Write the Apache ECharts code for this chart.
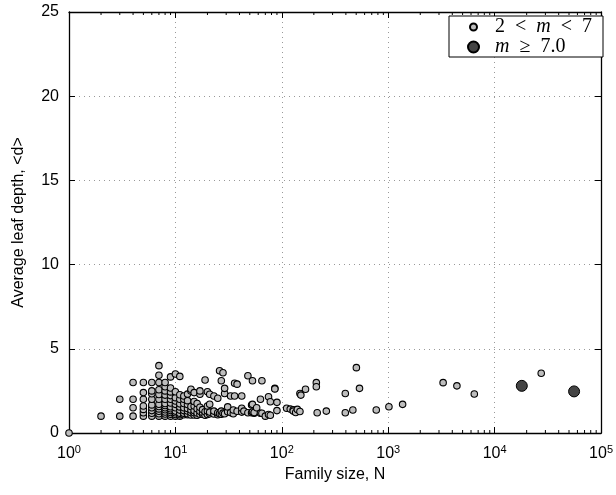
<!DOCTYPE html>
<html>
<head>
<meta charset="utf-8">
<script src="https://cdn.jsdelivr.net/npm/echarts@6/dist/echarts.min.js"></script>
<style>html,body{margin:0;padding:0;background:#fff;}#c{width:616px;height:495px;}</style>
</head>
<body>
<div id="c"></div>
<script>
// Family sizes (N) and average leaf depths (<d>) for families with 2 < m < 7
var smallN = [1,
  2, 3, 3,
  4, 4, 4, 4,
  5, 5, 5, 5, 5, 5, 5,
  6, 6, 6, 6, 6, 6, 6, 6, 6,
  7, 7, 7, 7, 7, 7, 7, 7, 7, 7, 7, 7,
  8, 8, 8, 8, 8, 8, 8, 8, 8, 8, 8, 8,
  9, 9, 9, 9, 9, 9, 9, 9, 9, 9, 9, 9,
  10, 10, 10, 10, 10, 10, 10, 10, 10, 10,
  11, 11, 11, 11, 11, 11, 11, 11, 11,
  12, 12, 12, 12, 12, 12, 12,
  13, 13, 13, 13, 13, 13, 13,
  14, 14, 14, 14, 14, 14,
  15, 15, 15, 15, 15, 15,
  16, 16, 16, 16,
  17, 17, 17, 17, 17,
  18, 18, 18,
  19, 19, 19,
  20, 20, 20, 20,
  21, 21, 21, 21,
  23, 23, 23,
  25, 25, 25,
  26, 26,
  27, 27, 27,
  28, 28,
  29, 29, 29,
  31, 31,
  33, 33,
  35, 35,
  36, 36,
  38, 38,
  42, 42, 42,
  44,
  48, 48,
  52, 52,
  53, 53, 53,
  55, 55,
  58,
  63, 63,
  65, 65,
  70,
  75, 75,
  78, 78,
  86, 86,
  90, 90,
  111, 120, 128, 128, 135, 140,
  148, 148, 151, 167,
  211, 211, 215, 262,
  395, 395, 465, 502, 537,
  772, 1015, 1365, 3280, 4420, 6440, 27400];
var smallD = [0,
  1, 1, 2,
  1, 1.5, 2, 3,
  1, 1.2, 1.4, 1.6, 2, 2.4, 3,
  1, 1.17, 1.33, 1.5, 1.67, 2, 2.33, 2.5, 3,
  1, 1.14, 1.29, 1.43, 1.57, 1.71, 2, 2.29, 2.57, 3, 3.43, 4,
  1, 1.13, 1.25, 1.38, 1.5, 1.63, 1.75, 2, 2.25, 2.5, 2.75, 3,
  1, 1.11, 1.22, 1.33, 1.44, 1.56, 1.78, 2, 2.22, 2.44, 2.67, 3.33,
  1, 1.1, 1.2, 1.3, 1.5, 1.7, 1.9, 2.1, 2.45, 3.5,
  1, 1.09, 1.18, 1.36, 1.55, 1.73, 2.0, 2.27, 3.36,
  1.08, 1.17, 1.33, 1.5, 1.75, 2.0, 2.2,
  1.08, 1.15, 1.31, 1.46, 1.69, 1.92, 2.31,
  1.07, 1.21, 1.36, 1.57, 2.5, 2.6,
  1.07, 1.2, 1.33, 1.6, 1.87, 2.4,
  1.06, 1.19, 1.44, 1.75,
  1.12, 1.29, 1.53, 2.3, 2.5,
  1.11, 1.22, 1.39,
  1.05, 1.26, 3.15,
  1.1, 1.3, 1.6, 2.45,
  1.14, 1.24, 1.71, 2.3,
  1.13, 1.3, 2.2,
  1.08, 1.2, 2.06,
  1.15, 3.7,
  1.11, 1.3, 3.1,
  1.18, 3.58,
  1.14, 2.35, 2.65,
  1.26, 1.55,
  1.21, 2.2,
  1.14, 1.37,
  2.2, 2.95,
  1.29, 2.9,
  1.24, 1.47, 2.2,
  1.3,
  3.4, 1.2,
  1.2, 1.66,
  1.7, 3.1, 1.25,
  1.18, 1.22,
  1.5,
  2.0, 1.17,
  3.1, 1.17,
  1.0,
  2.15, 1.1,
  1.86, 1.05,
  2.65, 2.62,
  1.82, 1.33,
  1.47, 1.42, 1.38, 1.3, 1.22, 1.4,
  2.35, 1.28, 2.25, 2.6,
  2.99, 2.75, 1.2, 1.3,
  2.35, 1.2, 1.37, 3.88, 2.65,
  1.37, 1.56, 1.7, 2.99, 2.8, 2.32, 3.55];
// Families with m >= 7.0
var largeN = [18000, 55800];
var largeD = [2.8, 2.47];

var yTicks = [0, 5, 10, 15, 20, 25];
var seriesNames = ['2 < m < 7', 'm \u2265 7.0'];

function pairs(xs, ys) { var o = []; for (var i = 0; i < xs.length; i++) o.push([xs[i], ys[i]]); return o; }
var minorTicks = [];
for (var e = 0; e < 5; e++) for (var k = 2; k <= 9; k++) minorTicks.push([k * Math.pow(10, e), 0]);

var FONT = 'Liberation Sans';
var SERIF = 'Liberation Serif';
var SP = '\u2002';
var chart = echarts.init(document.getElementById('c'), null, {renderer: 'canvas'});
var axisLineStyle = {color: '#000', width: 1.3};
var gridLine = {show: true, lineStyle: {color: '#999', type: [1, 4], width: 1}};
var legendRich = {
  p: {width: 13},
  n: {fontFamily: SERIF, fontSize: 20, color: '#000', lineHeight: 20},
  i: {fontFamily: SERIF, fontStyle: 'italic', fontSize: 20, color: '#000', lineHeight: 20}
};

chart.setOption({
  animation: false,
  backgroundColor: '#fff',
  grid: {left: 69, right: 11, top: 12, bottom: 62},
  xAxis: [{
    type: 'log', logBase: 10, min: 1, max: 100000, position: 'bottom',
    name: 'Family size, N', nameLocation: 'middle', nameGap: 29,
    nameTextStyle: {fontFamily: FONT, fontSize: 16, color: '#000'},
    axisLine: {show: true, onZero: false, lineStyle: axisLineStyle},
    axisTick: {show: true, inside: true, length: 6, lineStyle: {color: '#000'}},
    axisLabel: {
      margin: 11, color: '#000',
      formatter: function (v) { return '{b|10}{s|' + Math.round(Math.log10(v)) + '}'; },
      rich: {b: {fontFamily: FONT, fontSize: 16, color: '#000'}, s: {fontFamily: FONT, fontSize: 11, color: '#000', padding: [0, 0, 9, 0]}}
    },
    splitLine: gridLine
  }, {
    type: 'log', logBase: 10, min: 1, max: 100000, position: 'top',
    axisLine: {show: true, onZero: false, lineStyle: axisLineStyle},
    axisTick: {show: true, inside: true, length: 6, lineStyle: {color: '#000'}},
    axisLabel: {show: false}, splitLine: {show: false}
  }],
  yAxis: [{
    type: 'value', min: 0, max: 25, interval: 5, position: 'left',
    name: 'Average leaf depth, <d>', nameLocation: 'middle', nameGap: 42,
    nameTextStyle: {fontFamily: FONT, fontSize: 16, color: '#000'},
    axisLine: {show: true, onZero: false, lineStyle: axisLineStyle},
    axisTick: {show: true, inside: true, length: 6, lineStyle: {color: '#000'}},
    axisLabel: {fontFamily: FONT, fontSize: 16, color: '#000', margin: 10,
      formatter: function (v) { return yTicks.indexOf(v) >= 0 ? String(v) : ''; }},
    splitLine: gridLine
  }, {
    type: 'value', min: 0, max: 25, interval: 5, position: 'right',
    axisLine: {show: true, onZero: false, lineStyle: axisLineStyle},
    axisTick: {show: true, inside: true, length: 6, lineStyle: {color: '#000'}},
    axisLabel: {show: false}, splitLine: {show: false}
  }],
  legend: [{
    data: [seriesNames[0]], orient: 'vertical', left: 449, top: 16,
    padding: [1, 11, 20, 20], itemWidth: 7, itemHeight: 7,
    backgroundColor: '#fff', borderColor: '#000', borderWidth: 1,
    formatter: function () { return '{p|}{n|2' + SP + '<' + SP + '}{i|m}{n|' + SP + '<' + SP + '7}'; },
    textStyle: {rich: legendRich}
  }, {
    data: [seriesNames[1]], orient: 'vertical', left: 449, top: 37,
    padding: [0, 0, 0, 18], itemWidth: 11, itemHeight: 11,
    formatter: function () { return '{p|}{i|m}{n|' + SP + '\u2265' + SP + '7.0}'; },
    textStyle: {rich: {p: {width: 11}, n: legendRich.n, i: legendRich.i}}
  }],
  series: [{
    name: seriesNames[0], type: 'scatter', xAxisIndex: 0, yAxisIndex: 0,
    symbol: 'circle', symbolSize: 6.5,
    itemStyle: {color: '#bdbdbd', borderColor: '#000', borderWidth: 1.1, opacity: 1},
    data: pairs(smallN, smallD), z: 3
  }, {
    name: seriesNames[1], type: 'scatter', xAxisIndex: 0, yAxisIndex: 0,
    symbol: 'circle', symbolSize: 11,
    itemStyle: {color: '#444', borderColor: '#000', borderWidth: 1, opacity: 1},
    data: pairs(largeN, largeD), z: 4
  }, {
    type: 'custom', xAxisIndex: 0, yAxisIndex: 0, silent: true, legendHoverLink: false,
    data: minorTicks, z: 1,
    renderItem: function (params, api) {
      var b = api.coord([api.value(0), 0]);
      var t = api.coord([api.value(0), 25]);
      var st = {stroke: '#000', lineWidth: 1};
      return {type: 'group', children: [
        {type: 'line', shape: {x1: b[0], y1: b[1], x2: b[0], y2: b[1] - 3}, style: st},
        {type: 'line', shape: {x1: t[0], y1: t[1], x2: t[0], y2: t[1] + 3}, style: st}
      ]};
    }
  }]
});
</script>
</body>
</html>
